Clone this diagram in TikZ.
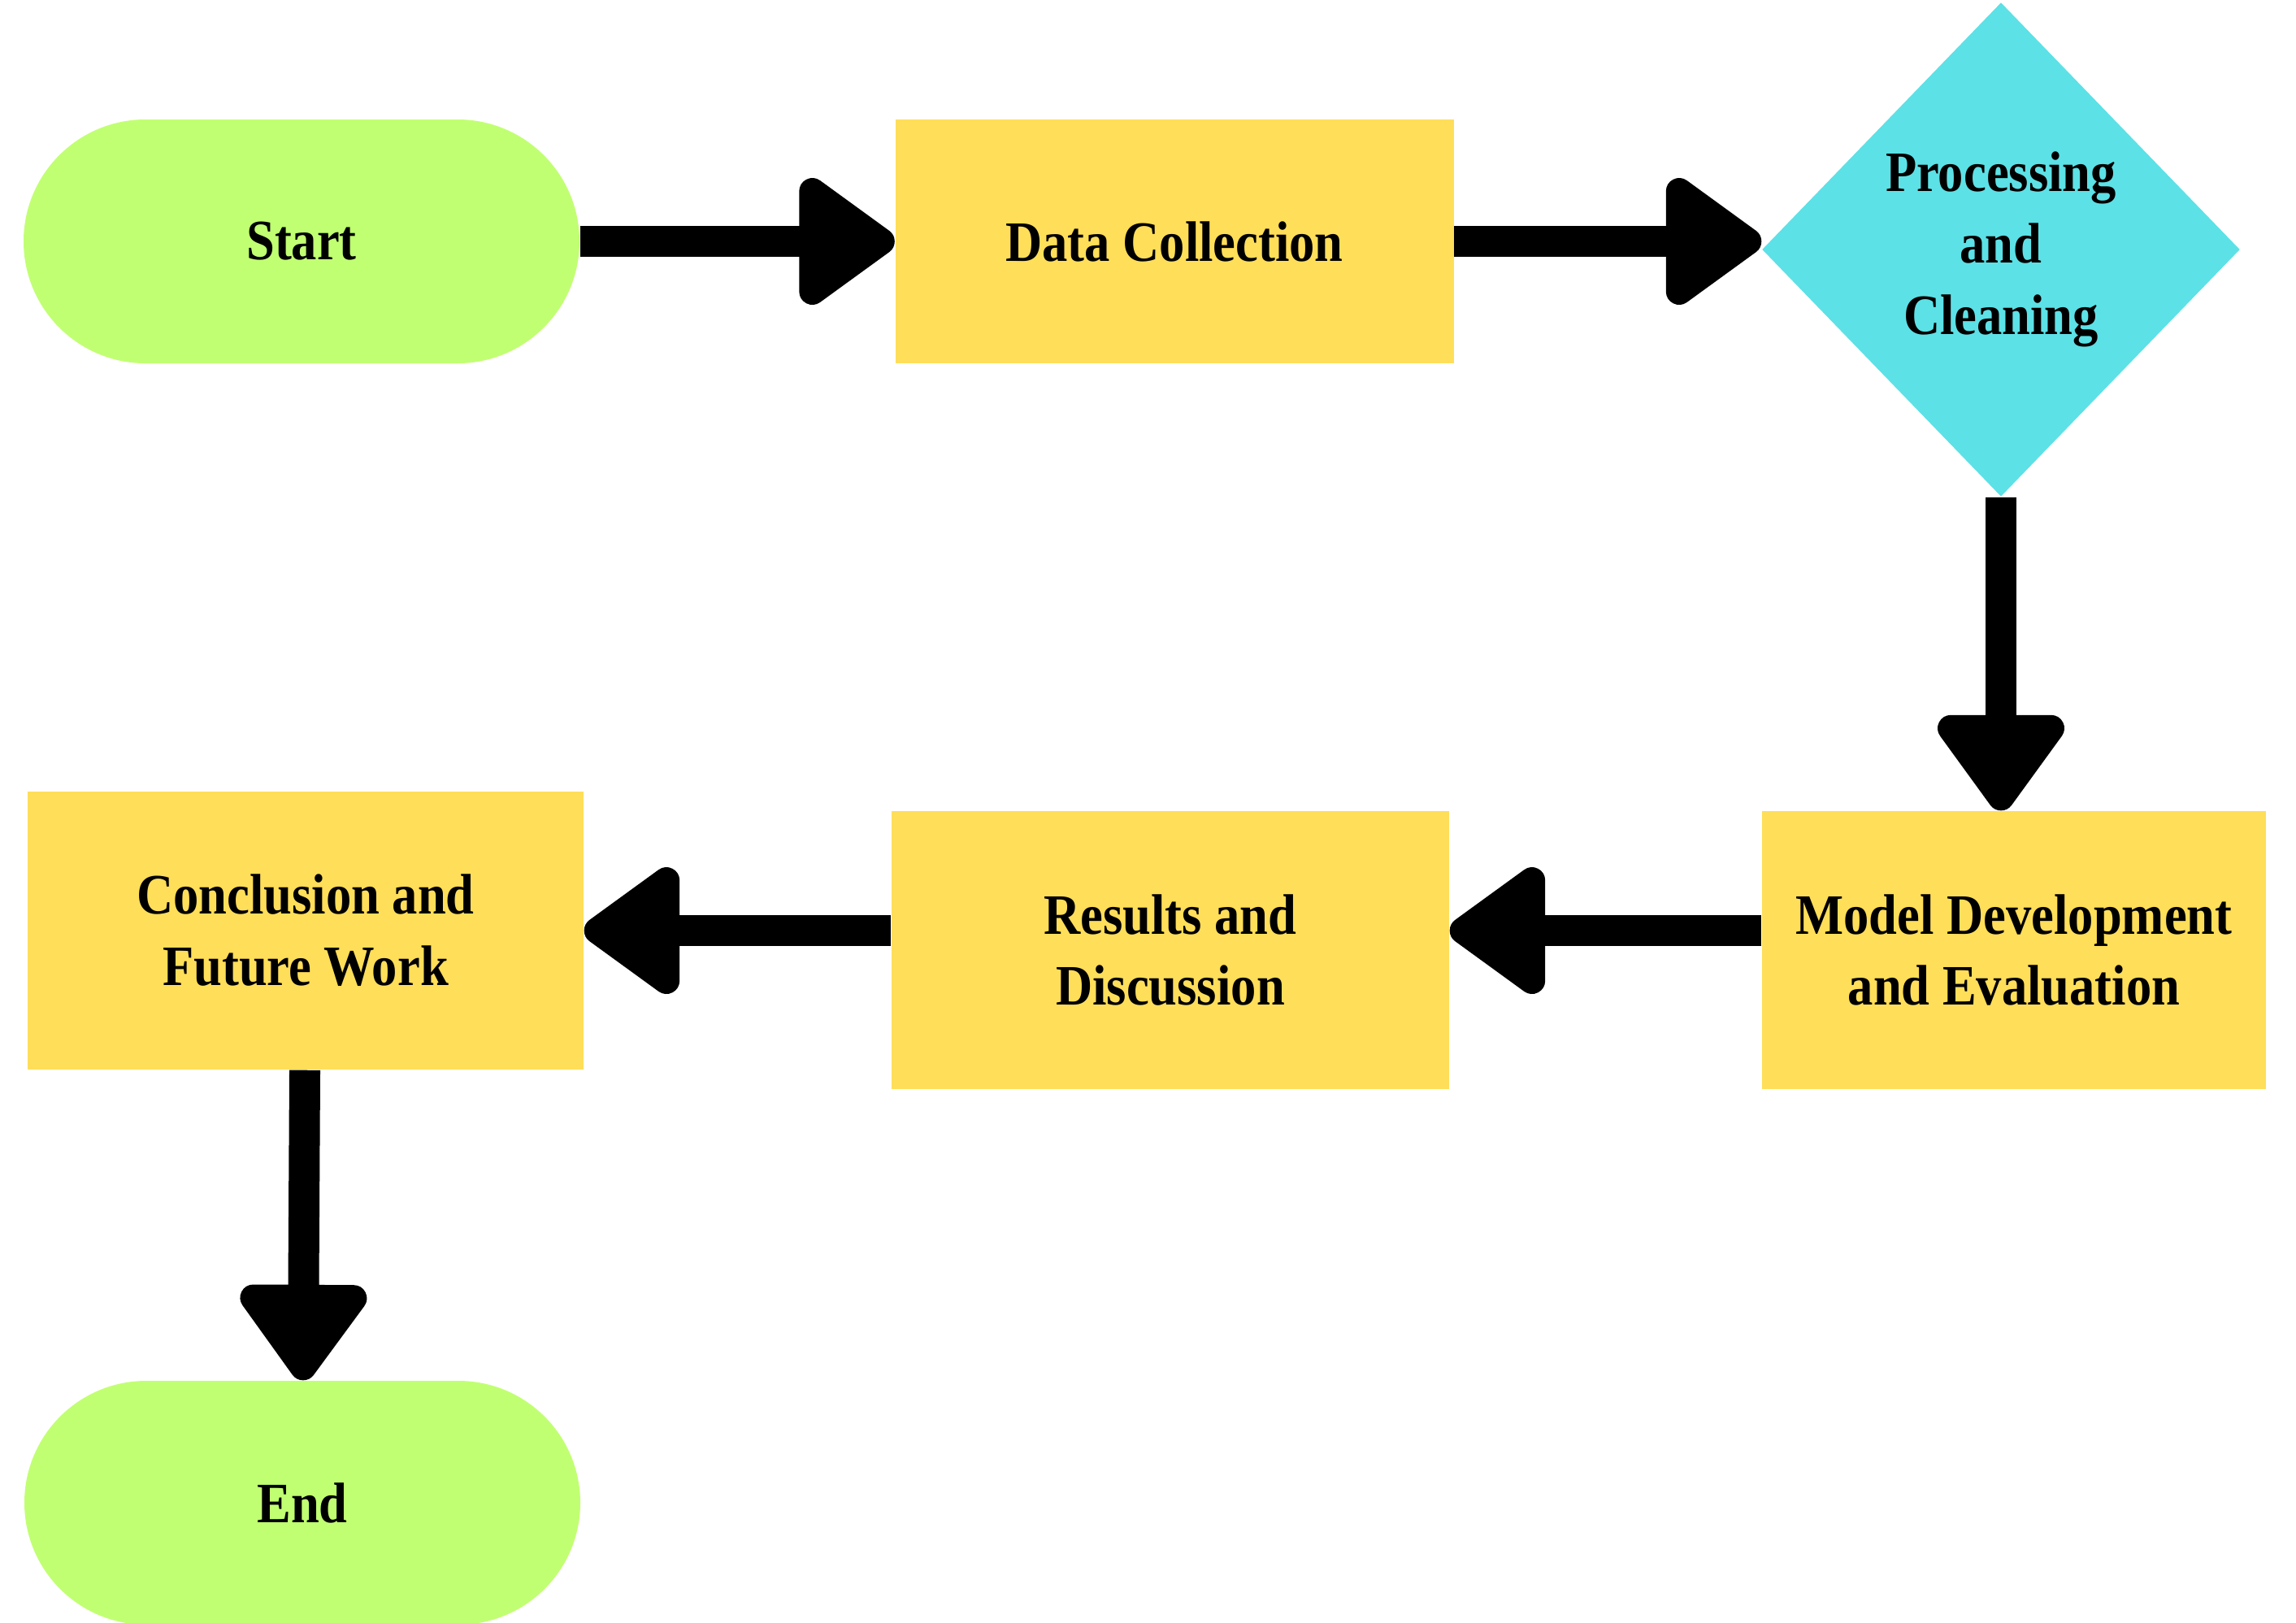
\documentclass[tikz,border=0pt]{standalone}
\usepackage{fontspec}
\setmainfont{Liberation Serif}[FakeStretch=0.89]
\usetikzlibrary{shapes.geometric,arrows.meta}
\definecolor{termgreen}{HTML}{C1FF72}
\definecolor{boxyellow}{HTML}{FFDE59}
\definecolor{diamcyan}{HTML}{5CE1E6}

\begin{document}
\begin{tikzpicture}[
    every node/.style={font=\fontsize{20}{25}\selectfont\bfseries, align=center, text=black},
    terminal/.style={rectangle, rounded corners=1.5cm, fill=termgreen, minimum width=6.84cm, minimum height=3cm},
    process/.style={rectangle, fill=boxyellow, minimum width=6.87cm, minimum height=3.42cm},
    decision/.style={diamond, fill=diamcyan, minimum width=5.88cm, minimum height=6.08cm, inner sep=0pt},
    flow/.style={line width=0.38cm, -{Triangle[length=1.3cm, width=1.78cm, round]}}
]
    \useasboundingbox (0,0) rectangle (28.25,-19.96);

    % Nodes
    \node[terminal] (start) at (3.71,-2.97) {Start};
    \node[process, minimum height=3cm] (data) at (14.45,-2.97) {Data Collection};
    \node[decision] (diam) at (24.62,-3.07) {Processing\\and\\Cleaning};
    \node[process, minimum width=6.2cm] (model) at (24.78,-11.69) {Model Development\\and Evaluation};
    \node[process, minimum width=6.86cm] (results) at (14.4,-11.69) {Results and\\Discussion};
    \node[process, minimum width=6.84cm] (concl) at (3.76,-11.45) {Conclusion and\\Future Work};
    \node[terminal] (end) at (3.72,-18.49) {End};

    % Arrows
    \draw[flow] (start) -- (data);
    \draw[flow] (data.east) -- (data.east -| diam.west);
    \draw[flow] (diam) -- (diam |- model.north);
    \draw[flow] (model.west |- concl) -- (results.east |- concl);
    \draw[flow] (results.west |- concl) -- (concl.east);
    \draw[flow] (concl) -- (end);
\end{tikzpicture}
\end{document}
